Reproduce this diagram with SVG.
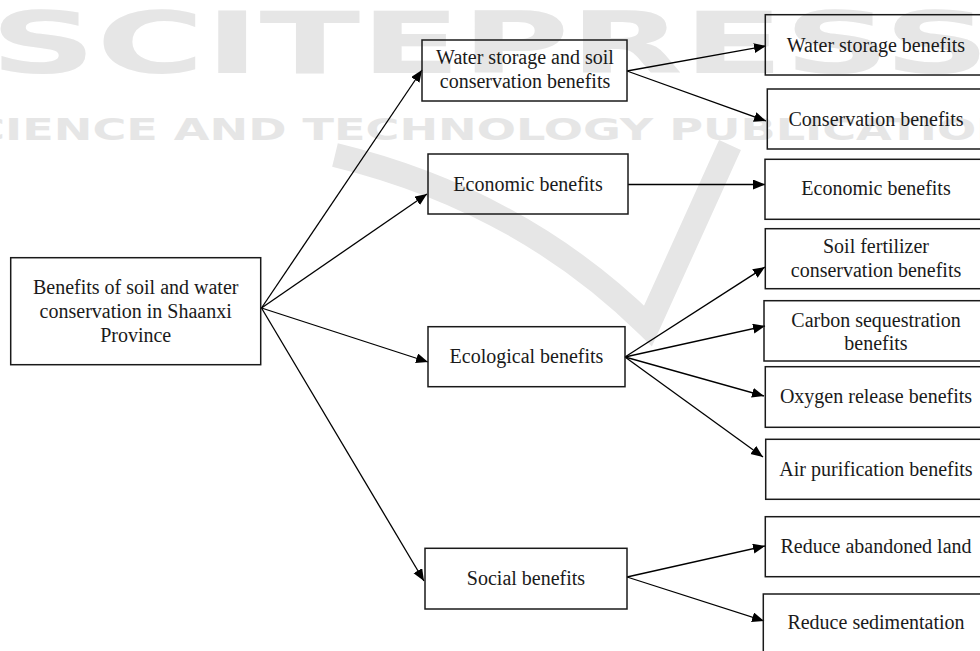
<svg xmlns="http://www.w3.org/2000/svg" width="980" height="651" viewBox="0 0 980 651">
<style>
.box{fill:none;stroke:#1a1a1a;stroke-width:1.5}
.lbl{font-family:"Liberation Serif","Times New Roman",serif;font-size:20px;fill:#1a1a1a;text-anchor:middle}
.con{stroke:#000;stroke-width:1.3;fill:none;marker-end:url(#ah)}
.wm{fill:#e6e6e6;font-family:"DejaVu Sans",sans-serif;font-weight:bold}
</style>
<defs>
<marker id="ah" markerUnits="userSpaceOnUse" markerWidth="13" markerHeight="11" refX="12" refY="5" orient="auto">
<path d="M0,0 L12,5 L0,10 z" fill="#000"/>
</marker>
</defs>
<rect width="980" height="651" fill="#fff"/>
<g id="watermark">
<text class="wm" x="-10" y="73" font-size="86" textLength="1000" lengthAdjust="spacingAndGlyphs">SCITEPRESS</text>
<text class="wm" x="-62" y="140" font-size="30" textLength="1110" lengthAdjust="spacingAndGlyphs">SCIENCE AND TECHNOLOGY PUBLICATIONS</text>
<path d="M335,155 Q520,200 648,326 L730,145" fill="none" stroke="#e6e6e6" stroke-width="24" stroke-linejoin="miter"/>
</g>
<g id="connectors">
<line class="con" x1="261.5" y1="308" x2="422" y2="70"/>
<line class="con" x1="261.5" y1="308" x2="427" y2="194"/>
<line class="con" x1="261.5" y1="308" x2="428" y2="362"/>
<line class="con" x1="261.5" y1="308" x2="424" y2="581"/>
<line class="con" x1="627" y1="71" x2="766" y2="46"/>
<line class="con" x1="627" y1="71" x2="766" y2="121"/>
<line class="con" x1="628" y1="184.5" x2="765" y2="184.5"/>
<line class="con" x1="625" y1="357" x2="765" y2="267"/>
<line class="con" x1="625" y1="357" x2="765" y2="326"/>
<line class="con" x1="625" y1="357" x2="764" y2="396"/>
<line class="con" x1="625" y1="357" x2="763" y2="457"/>
<line class="con" x1="627" y1="577" x2="765" y2="546"/>
<line class="con" x1="627" y1="577" x2="764" y2="621"/>
</g>
<g id="root">
<rect class="box" x="10.7" y="257.7" width="250" height="107"/>
<text class="lbl" x="135.7" y="293.5">Benefits of soil and water</text>
<text class="lbl" x="135.7" y="317.5">conservation in Shaanxi</text>
<text class="lbl" x="135.7" y="341.5">Province</text>
</g>
<g id="water-soil">
<rect class="box" x="422" y="40" width="205" height="61"/>
<text class="lbl" x="525" y="64">Water storage and soil</text>
<text class="lbl" x="525" y="88">conservation benefits</text>
</g>
<g id="economic">
<rect class="box" x="428" y="154" width="200" height="60"/>
<text class="lbl" x="528" y="190.5">Economic benefits</text>
</g>
<g id="ecological">
<rect class="box" x="428" y="326.7" width="197" height="60"/>
<text class="lbl" x="526.5" y="362.7">Ecological benefits</text>
</g>
<g id="social">
<rect class="box" x="425" y="548.3" width="202" height="60.7"/>
<text class="lbl" x="526" y="585">Social benefits</text>
</g>
<g id="water-storage">
<rect class="box" x="765.3" y="14.7" width="224" height="60.3"/>
<text class="lbl" x="876" y="51.5">Water storage benefits</text>
</g>
<g id="conservation">
<rect class="box" x="767.3" y="89" width="224" height="60"/>
<text class="lbl" x="876" y="125.5">Conservation benefits</text>
</g>
<g id="economic-r">
<rect class="box" x="765" y="159.3" width="224" height="60"/>
<text class="lbl" x="876" y="195">Economic benefits</text>
</g>
<g id="soil-fertilizer">
<rect class="box" x="765.3" y="228.7" width="224" height="60"/>
<text class="lbl" x="876" y="252.7">Soil fertilizer</text>
<text class="lbl" x="876" y="277.3">conservation benefits</text>
</g>
<g id="carbon">
<rect class="box" x="764" y="300.7" width="224" height="60.3"/>
<text class="lbl" x="876" y="326.7">Carbon sequestration</text>
<text class="lbl" x="876" y="349.5">benefits</text>
</g>
<g id="oxygen">
<rect class="box" x="765.3" y="366.7" width="224" height="60.6"/>
<text class="lbl" x="876" y="403.4">Oxygen release benefits</text>
</g>
<g id="air">
<rect class="box" x="765.7" y="439.3" width="224" height="60"/>
<text class="lbl" x="876" y="476">Air purification benefits</text>
</g>
<g id="abandoned">
<rect class="box" x="765.3" y="516.7" width="224" height="60"/>
<text class="lbl" x="876" y="553">Reduce abandoned land</text>
</g>
<g id="sedimentation">
<rect class="box" x="763.3" y="594" width="224" height="62"/>
<text class="lbl" x="876" y="629.3">Reduce sedimentation</text>
</g>
</svg>
